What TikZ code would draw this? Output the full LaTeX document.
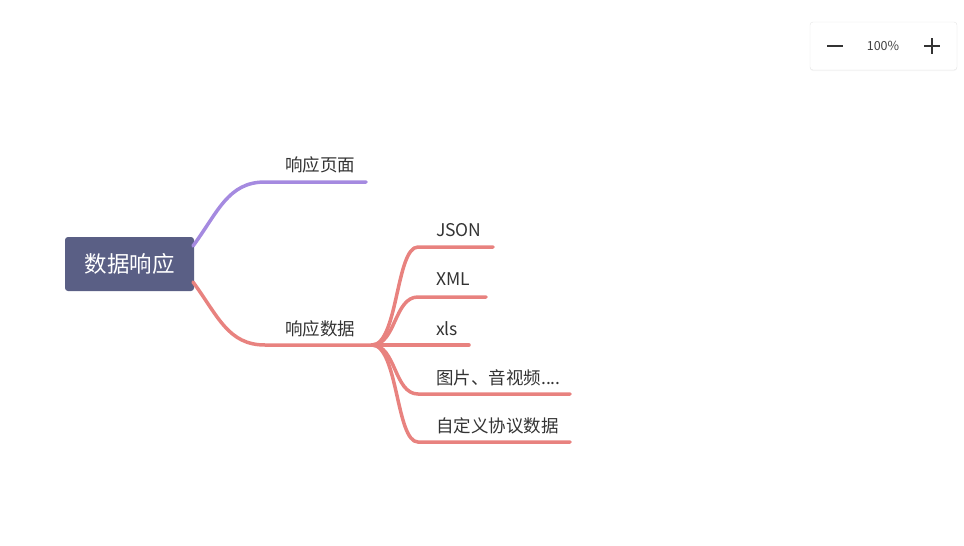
\documentclass[tikz,border=0pt]{standalone}
\usepackage{fontspec}
\setmainfont{Noto Sans CJK SC}
\usetikzlibrary{shadows}
\definecolor{rootfill}{HTML}{5A5F85}
\definecolor{purpleline}{HTML}{A58AE0}
\definecolor{redline}{HTML}{E8827F}
\definecolor{txt}{HTML}{333333}
\tikzset{
  rootbox/.style={fill=rootfill, rounded corners=3pt, minimum width=129pt, minimum height=54pt, text=white, font=\fontsize{22.5}{26}\selectfont, inner sep=0pt},
  lbl/.style={anchor=west, text=txt, font=\fontsize{17.5}{20}\selectfont, inner sep=0pt},
  pbranch/.style={draw=purpleline, line width=3.5pt, line cap=round},
  rbranch/.style={draw=redline, line width=3.5pt, line cap=round},
  zoombox/.style={draw=black!10, fill=white, rounded corners=3pt, minimum width=147pt, minimum height=48pt, drop shadow={opacity=0.08, shadow xshift=0pt, shadow yshift=-1pt}},
  ztxt/.style={text=black!75, font=\fontsize{12.5}{15}\selectfont, inner sep=0pt},
  zicon/.style={draw=black!80, line width=1.4pt},
}
\begin{document}
\begin{tikzpicture}[x=1pt,y=-1pt]
\useasboundingbox (0,0) rectangle (964,546);
% root
\node[rootbox] (root) at (129.5,264) {数据响应};
% purple branch
\coordinate (p0) at (193,246);
\coordinate (p1) at (265,182);
\coordinate (p2) at (366,182);
\draw[pbranch] (p0) .. controls (218,212) and (228,182) .. (p1) -- (p2);
\node[lbl] (page) at (285,164.5) {响应页面};
% red branch
\coordinate (r0) at (193,282);
\coordinate (r1) at (265,345);
\coordinate (hub) at (372,345);
\draw[rbranch] (r0) .. controls (218,316) and (228,345) .. (r1) -- (hub);
\node[lbl] (data) at (285,328.5) {响应数据};
% children
\coordinate (j1) at (418,247); \coordinate (j2) at (493,247);
\coordinate (x1) at (418,297); \coordinate (x2) at (486,297);
\coordinate (s2) at (469,345);
\coordinate (i1) at (418,394); \coordinate (i2) at (570,394);
\coordinate (c1) at (418,442); \coordinate (c2) at (570,442);
\draw[rbranch] (hub) .. controls (398,345) and (396,247) .. (j1) -- (j2);
\draw[rbranch] (hub) .. controls (396,345) and (394,297) .. (x1) -- (x2);
\draw[rbranch] (hub) -- (s2);
\draw[rbranch] (hub) .. controls (396,345) and (394,394) .. (i1) -- (i2);
\draw[rbranch] (hub) .. controls (398,345) and (396,442) .. (c1) -- (c2);
\node[lbl] (json) at (436,230.5) {JSON};
\node[lbl] (xml) at (436,279.5) {XML};
\node[lbl] (xls) at (436,328.5) {xls};
\node[lbl] (img) at (436,377.5) {图片、音视频....};
\node[lbl] (proto) at (436,425.5) {自定义协议数据};
% zoom control
\node[zoombox] (zoom) at (883.5,46) {};
\coordinate (m1) at (827,46); \coordinate (m2) at (843,46);
\draw[zicon] (m1) -- (m2);
\node[ztxt] (pct) at (883,46) {100\%};
\coordinate (ph1) at (924,46); \coordinate (ph2) at (940,46);
\coordinate (pv1) at (932,38); \coordinate (pv2) at (932,54);
\draw[zicon] (ph1) -- (ph2) (pv1) -- (pv2);
\end{tikzpicture}
\end{document}
